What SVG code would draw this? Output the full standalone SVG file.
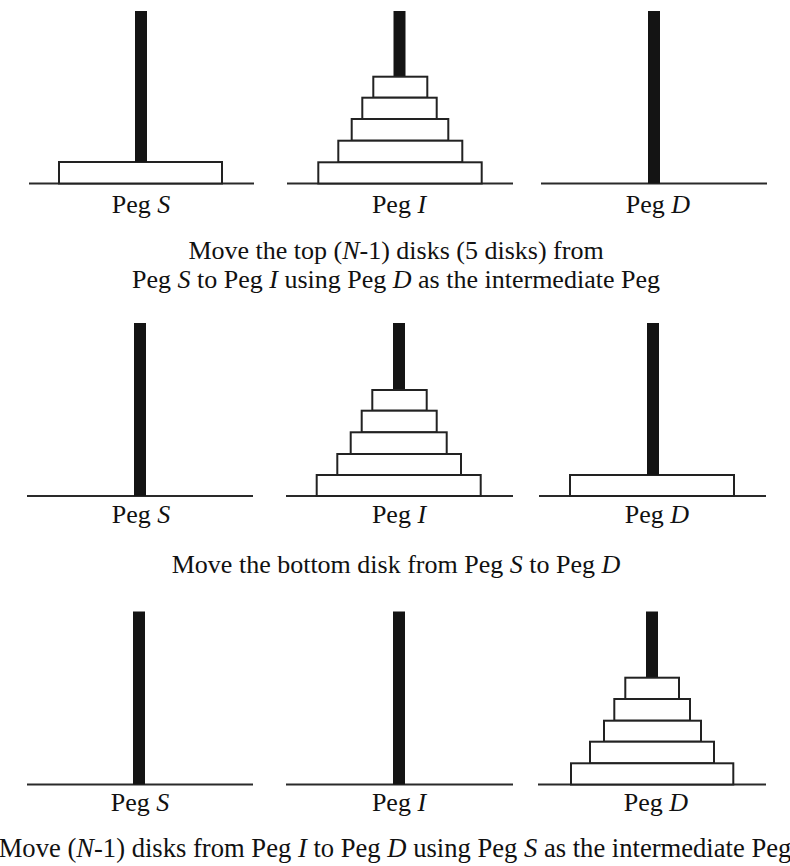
<svg xmlns="http://www.w3.org/2000/svg" width="790" height="866" viewBox="0 0 790 866">
  <style>
    .peg { fill: #141414; }
    .disk { fill: #ffffff; stroke: #222222; stroke-width: 2; }
    .base { stroke: #2a2a2a; stroke-width: 2; fill: none; }
    text { font-family: "Liberation Serif", "Times New Roman", serif; font-size: 26px; fill: #111111; text-anchor: middle; }
    .it { font-style: italic; }
    .wide { font-size: 26.6px; }
  </style>
  <rect width="790" height="866" fill="#ffffff"/>

  <!-- Stage 1: all but one disk already moved to peg I -->
  <g id="stage1">
    <g id="s1-pegS">
      <line class="base" x1="29" y1="183.5" x2="254" y2="183.5"/>
      <rect class="disk" x="59" y="162" width="163" height="21.5"/>
      <rect class="peg" x="135" y="11" width="12" height="151"/>
      <text x="141" y="213">Peg <tspan class="it">S</tspan></text>
    </g>
    <g id="s1-pegI">
      <line class="base" x1="287" y1="183.5" x2="513" y2="183.5"/>
      <rect class="peg" x="393.5" y="11" width="12" height="66"/>
      <rect class="disk" x="373.3" y="76.7" width="54" height="21"/>
      <rect class="disk" x="362.3" y="97.7" width="74.4" height="21.3"/>
      <rect class="disk" x="351.7" y="119" width="96.6" height="21.7"/>
      <rect class="disk" x="338.3" y="140.7" width="124" height="21.6"/>
      <rect class="disk" x="318.3" y="162.3" width="163.4" height="21.2"/>
      <text x="399" y="213">Peg <tspan class="it">I</tspan></text>
    </g>
    <g id="s1-pegD">
      <line class="base" x1="541" y1="183.5" x2="767" y2="183.5"/>
      <rect class="peg" x="648" y="11" width="12" height="172.5"/>
      <text x="658" y="213">Peg <tspan class="it">D</tspan></text>
    </g>
    <text x="396" y="259">Move the top (<tspan class="it">N</tspan>-1) disks (5 disks) from</text>
    <text x="396" y="287.5">Peg <tspan class="it">S</tspan> to Peg <tspan class="it">I</tspan> using Peg <tspan class="it">D</tspan> as the intermediate Peg</text>
  </g>

  <!-- Stage 2: bottom disk moved to peg D -->
  <g id="stage2">
    <g id="s2-pegS">
      <line class="base" x1="27" y1="496" x2="253" y2="496"/>
      <rect class="peg" x="134" y="323" width="12" height="173"/>
      <text x="141" y="523">Peg <tspan class="it">S</tspan></text>
    </g>
    <g id="s2-pegI">
      <line class="base" x1="286" y1="496" x2="513" y2="496"/>
      <rect class="peg" x="393" y="323" width="12" height="67"/>
      <rect class="disk" x="372.3" y="390" width="54.4" height="20.7"/>
      <rect class="disk" x="361.7" y="410.7" width="75" height="21.6"/>
      <rect class="disk" x="350.7" y="432.3" width="96" height="21.7"/>
      <rect class="disk" x="337.3" y="454" width="123.7" height="21"/>
      <rect class="disk" x="316.7" y="475" width="164" height="21"/>
      <text x="399" y="523">Peg <tspan class="it">I</tspan></text>
    </g>
    <g id="s2-pegD">
      <line class="base" x1="539" y1="496" x2="766" y2="496"/>
      <rect class="disk" x="570" y="475" width="164" height="21"/>
      <rect class="peg" x="647" y="323" width="12" height="152"/>
      <text x="657" y="523">Peg <tspan class="it">D</tspan></text>
    </g>
    <text x="396" y="573">Move the bottom disk from Peg <tspan class="it">S</tspan> to Peg <tspan class="it">D</tspan></text>
  </g>

  <!-- Stage 3: remaining disks stacked on peg D -->
  <g id="stage3">
    <g id="s3-pegS">
      <line class="base" x1="27" y1="784.5" x2="253" y2="784.5"/>
      <rect class="peg" x="133" y="611.5" width="12" height="173"/>
      <text x="140" y="811">Peg <tspan class="it">S</tspan></text>
    </g>
    <g id="s3-pegI">
      <line class="base" x1="286" y1="784.5" x2="513" y2="784.5"/>
      <rect class="peg" x="393" y="611.5" width="12" height="173"/>
      <text x="399" y="811">Peg <tspan class="it">I</tspan></text>
    </g>
    <g id="s3-pegD">
      <line class="base" x1="538" y1="784.5" x2="766" y2="784.5"/>
      <rect class="peg" x="646" y="611.5" width="12" height="66"/>
      <rect class="disk" x="625.3" y="677.7" width="53.7" height="21.3"/>
      <rect class="disk" x="614.3" y="699" width="75.7" height="21.7"/>
      <rect class="disk" x="604" y="720.7" width="97" height="21"/>
      <rect class="disk" x="590" y="741.7" width="124" height="21.6"/>
      <rect class="disk" x="571" y="763.3" width="162.3" height="21.2"/>
      <text x="656" y="811">Peg <tspan class="it">D</tspan></text>
    </g>
    <text class="wide" x="395" y="856.5">Move (<tspan class="it">N</tspan>-1) disks from Peg <tspan class="it">I</tspan> to Peg <tspan class="it">D</tspan> using Peg <tspan class="it">S</tspan> as the intermediate Peg</text>
  </g>
</svg>
